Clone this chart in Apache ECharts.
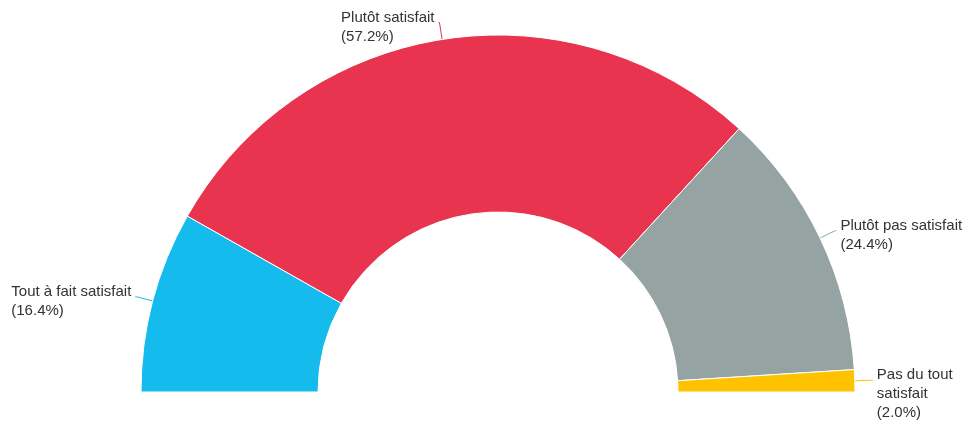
<!DOCTYPE html>
<html>
<head>
<meta charset="utf-8">
<script src="https://cdn.jsdelivr.net/npm/echarts@6/dist/echarts.min.js"></script>
<style>
html,body{margin:0;padding:0;background:#fff;}
#chart{width:969px;height:421px;}
</style>
</head>
<body>
<div id="chart"></div>
<script>
var categories = ['Tout à fait satisfait', 'Plutôt satisfait', 'Plutôt pas satisfait', 'Pas du tout satisfait'];
var labelLines = [['Tout à fait satisfait'], ['Plutôt satisfait'], ['Plutôt pas satisfait'], ['Pas du tout', 'satisfait']];
var values = [16.4, 57.2, 24.4, 2.0];
var colors = ['#15BBEC', '#E8344E', '#95A4A3', '#FFC200'];

var LINE_H = 19;

var chart = echarts.init(document.getElementById('chart'), null, {renderer: 'canvas'});

var data = categories.map(function (name, i) {
  return {
    name: name,
    value: values[i],
    itemStyle: {color: colors[i]},
    labelLine: {lineStyle: {color: colors[i]}}
  };
});

chart.setOption({
  animation: false,
  series: [{
    type: 'pie',
    center: [498, 392],
    radius: [180, 357],
    startAngle: 180,
    endAngle: 360,
    avoidLabelOverlap: false,
    minShowLabelAngle: 0,
    itemStyle: {borderColor: '#ffffff', borderWidth: 1},
    label: {
      show: true,
      position: 'outside',
      distanceToLabelLine: 4,
      formatter: function (p) {
        var lines = labelLines[p.dataIndex].concat(['(' + p.value.toFixed(1) + '%)']);
        // spacer so that the leader line meets the baseline of the first line
        var n = lines.length;
        var spacer = '{s' + n + '| }';
        return spacer + '\n' + lines.map(function (l) { return '{t|' + l + '}'; }).join('\n');
      },
      rich: {
        t: {
          align: 'left',
          fontFamily: 'Liberation Sans, Arial, sans-serif',
          fontSize: 15,
          lineHeight: LINE_H,
          color: '#333333'
        },
        s2: {fontSize: 1, lineHeight: 9, align: 'left'},
        s3: {fontSize: 1, lineHeight: 28, align: 'left'}
      }
    },
    labelLine: {show: true, length: 17, length2: 1, lineStyle: {width: 1}},
    emphasis: {disabled: true},
    data: data
  }]
});
</script>
</body>
</html>
